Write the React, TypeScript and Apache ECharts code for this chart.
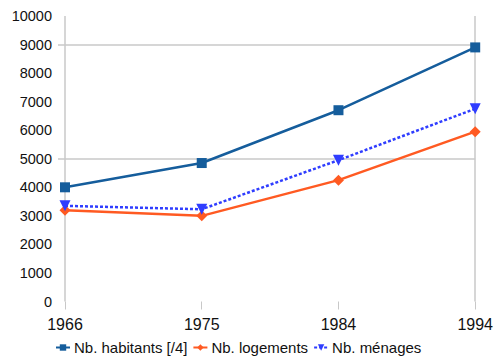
import React, { useEffect, useRef } from "react";
import * as echarts from "echarts";

const years = ["1966", "1975", "1984", "1994"];
const habitants = [4000, 4850, 6700, 8900];
const logements = [3200, 3000, 4250, 5950];
const menages = [3350, 3230, 4950, 6750];
const gridValues = [5000, 9000];
const seriesNames = ["Nb. habitants [/4]", "Nb. logements", "Nb. ménages"];

const FONT = "Liberation Sans, Arial, sans-serif";

export default function App() {
  const ref = useRef<HTMLDivElement>(null);
  useEffect(() => {
    if (!ref.current) return;
    const chart = echarts.init(ref.current, null, { renderer: "svg" });
    chart.setOption({
      animation: false,
      backgroundColor: "#ffffff",
      textStyle: { fontFamily: FONT },
      grid: { left: 65, right: 18, top: 16, bottom: 58.5, containLabel: false },
      legend: {
        left: 55,
        top: 340,
        itemWidth: 14,
        itemHeight: 8,
        itemGap: 5,
        padding: 0,
        textStyle: { fontFamily: FONT, fontSize: 15, color: "#111", padding: [0, 0, 0, -1] },
        data: seriesNames,
      },
      xAxis: {
        type: "category",
        data: years,
        boundaryGap: false,
        axisLine: { show: false },
        axisTick: { show: true, length: 8, lineStyle: { color: "#c8c8c8", width: 1 } },
        axisLabel: { fontFamily: FONT, fontSize: 16, color: "#111", margin: 15 },
        splitLine: {
          show: true,
          interval: (index: number) => index === 0 || index === years.length - 1,
          lineStyle: { color: "#c8c8c8", width: 1.5 },
        },
      },
      yAxis: {
        type: "value",
        min: 0,
        max: 10000,
        interval: 1000,
        axisLine: { show: false },
        axisTick: { show: true, customValues: gridValues, length: 7, lineStyle: { color: "#c8c8c8", width: 1.5 } },
        axisLabel: {
          fontFamily: FONT,
          fontSize: 14.5,
          color: "#111",
          margin: 13,
          formatter: (v: number) => String(v),
        },
        splitLine: { show: false },
      },
      series: [
        {
          name: seriesNames[0],
          type: "line",
          data: habitants,
          symbol: "rect",
          symbolSize: 10,
          color: "#155d9c",
          lineStyle: { width: 2.5, color: "#155d9c" },
          itemStyle: { color: "#155d9c" },
          z: 3,
          markLine: {
            silent: true,
            symbol: "none",
            label: { show: false },
            lineStyle: { color: "#c8c8c8", type: "solid", width: 1.5 },
            data: gridValues.map((v) => ({ yAxis: v })),
            z: 1,
          },
        },
        {
          name: seriesNames[1],
          type: "line",
          data: logements,
          symbol: "diamond",
          symbolSize: 11,
          color: "#ff5a22",
          lineStyle: { width: 2.5, color: "#ff5a22" },
          itemStyle: { color: "#ff5a22" },
          z: 3,
        },
        {
          name: seriesNames[2],
          type: "line",
          data: menages,
          symbol: "triangle",
          symbolRotate: 180,
          symbolSize: 11,
          color: "#2f3dff",
          lineStyle: { width: 2.5, color: "#2f3dff", type: [3, 2] },
          itemStyle: { color: "#2f3dff" },
          z: 3,
        },
      ],
    });
    return () => chart.dispose();
  }, []);
  return <div ref={ref} style={{ width: 496, height: 360, position: "absolute", left: 0, top: 0 }} />;
}
